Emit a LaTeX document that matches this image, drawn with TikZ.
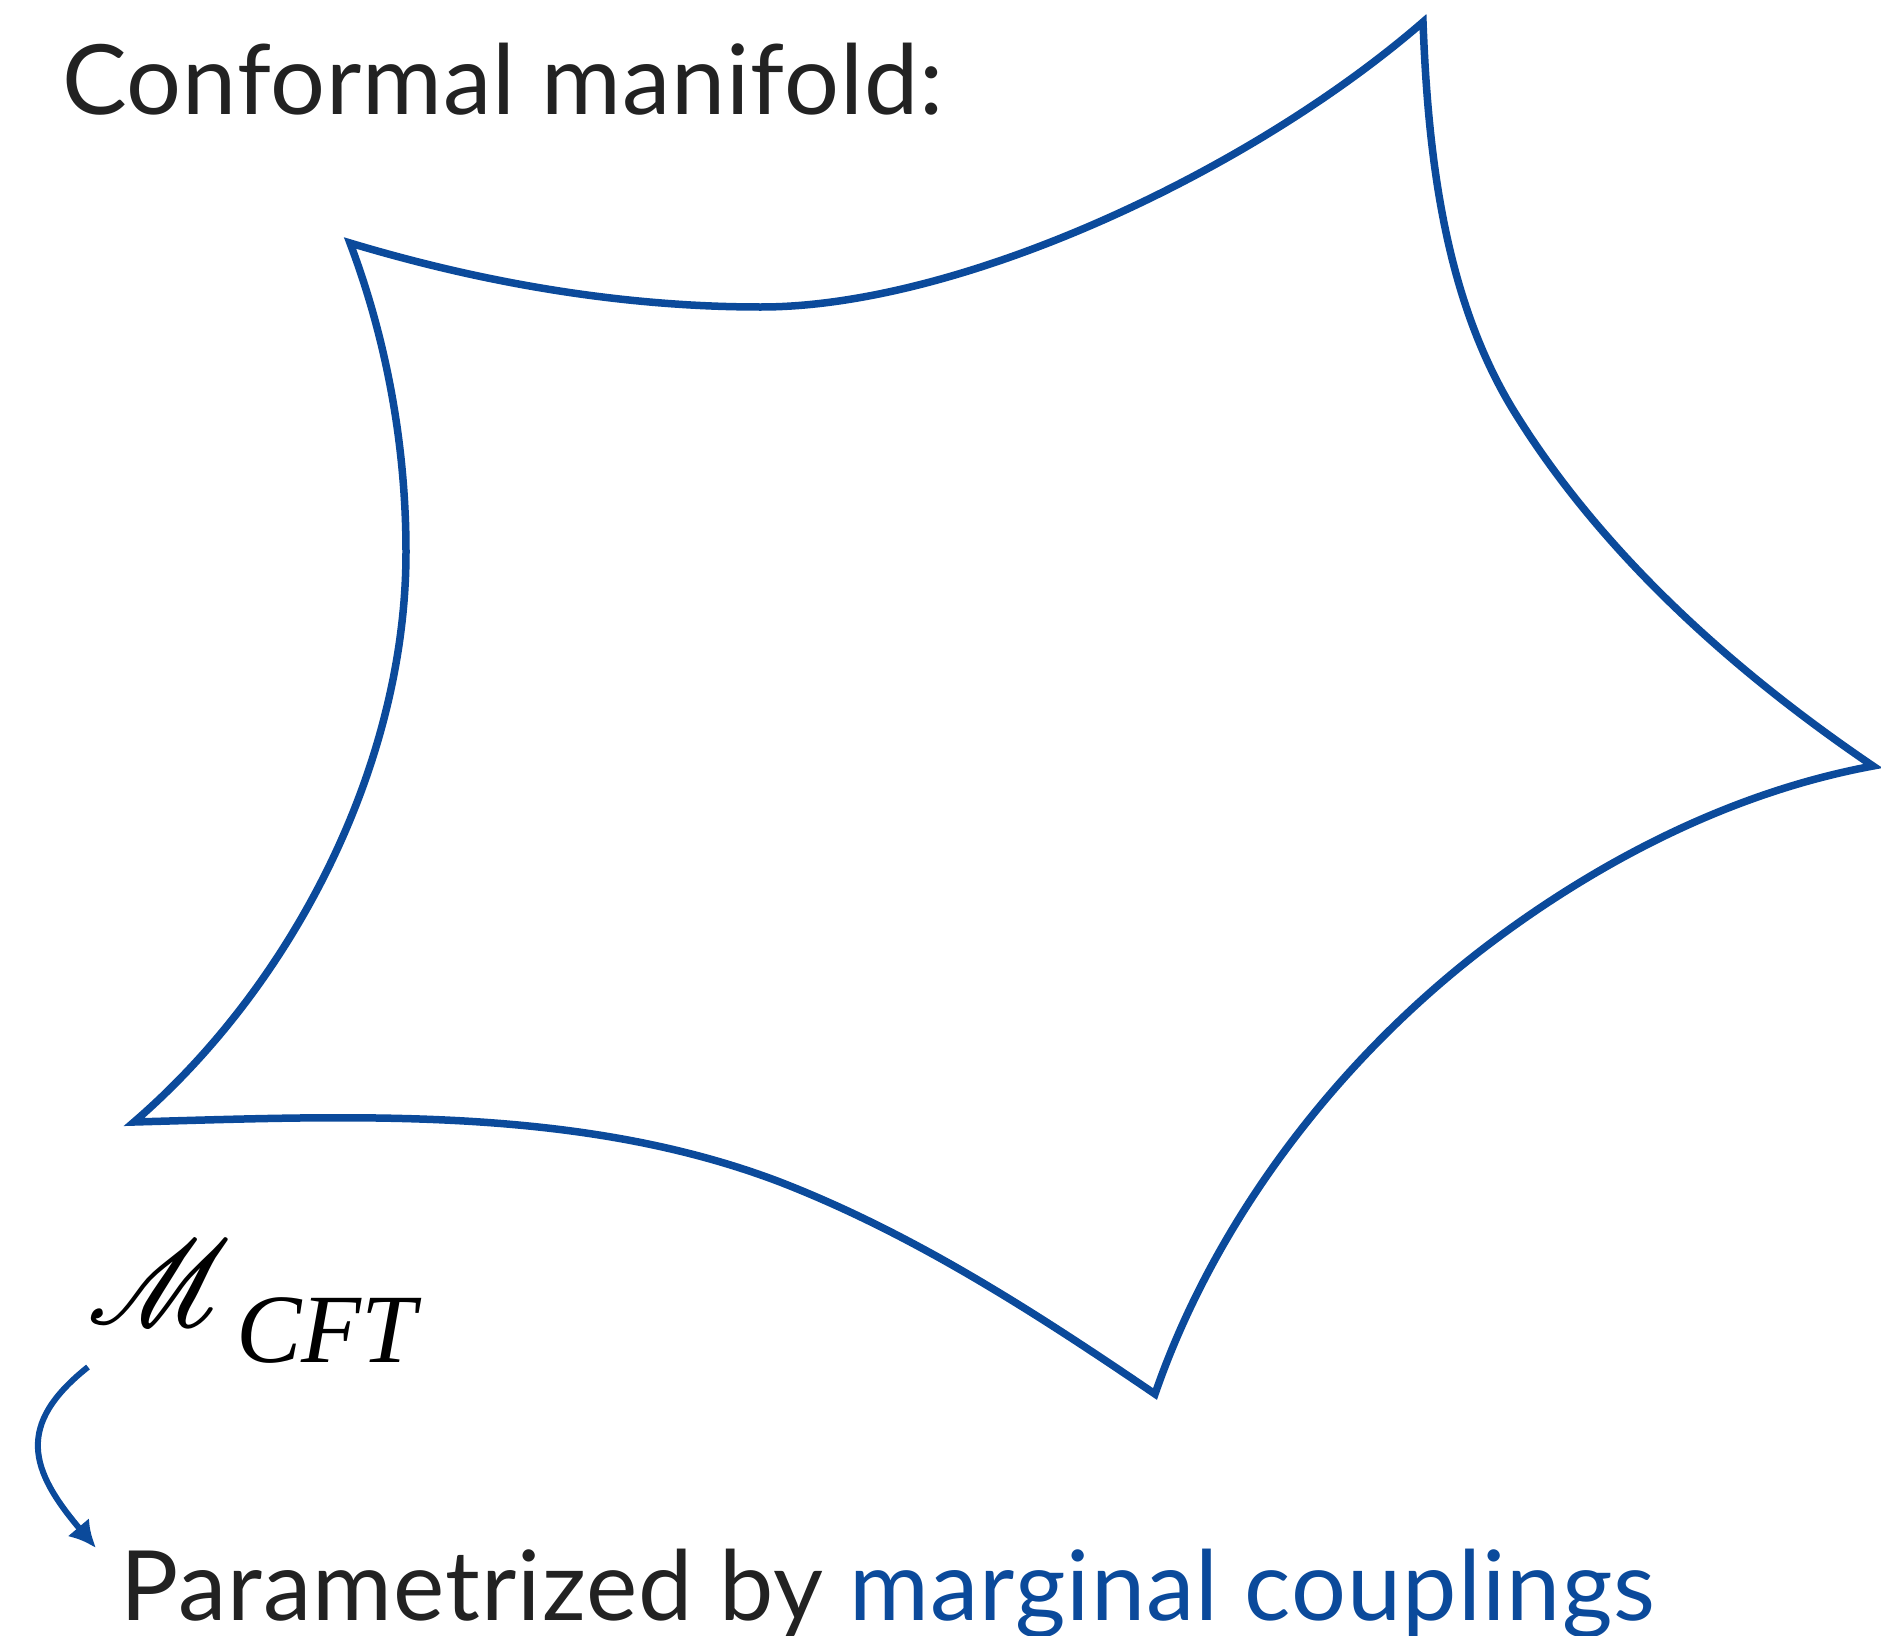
\documentclass[tikz,border=0pt]{standalone}
\usepackage{fontspec}
\usepackage{mathrsfs}
\usepackage{graphicx}
\setmainfont{Lato}[LetterSpace=1]
\newfontfamily\timesit{Liberation Serif}[ItalicFont=* Italic]
\usetikzlibrary{arrows.meta}
\definecolor{cftblue}{RGB}{11,74,155}
\definecolor{txtgray}{RGB}{34,34,34}
\tikzset{
  starline/.style={draw=cftblue, line width=7.5pt, line join=miter, miter limit=20},
  bigtext/.style={anchor=base west, inner sep=0pt, text=txtgray, font=\fontsize{97}{110}\selectfont},
  flowarrow/.style={draw=cftblue, line width=6pt, -{Latex[length=27pt,width=28pt]}}
}
\begin{document}
\begin{tikzpicture}[x=1pt,y=-1pt]
\useasboundingbox (0,0) rectangle (1881,1635);
% star-shaped conformal manifold
\coordinate (A) at (350,243);
\coordinate (B) at (1423,22);
\coordinate (C) at (1873,766);
\coordinate (D) at (1155,1394);
\coordinate (E) at (134,1122);
\path[starline] (A)
  .. controls (483,283) and (622,307) .. (761,307)
  .. controls (960,307) and (1250,172) .. (B)
  .. controls (1428,154) and (1444,295) .. (1512,408)
  .. controls (1600,552) and (1733,671) .. (C)
  .. controls (1738,791) and (1610,855) .. (1500,936)
  .. controls (1346,1049) and (1217,1214) .. (D)
  .. controls (1036,1313) and (914,1234) .. (780,1182)
  .. controls (578,1105) and (350,1116) .. (E)
  .. controls (294,984) and (406,763) .. (406,552)
  .. controls (406,447) and (387,341) .. cycle;
% texts
\node[bigtext] (title) at (62,114) {Conformal manifold:};
\node[anchor=base west, inner sep=0pt] (mscr) at (81,1324) {\fontsize{5}{6}\selectfont\scalebox{20}[24]{$\mathscr{M}$}};
\node[anchor=base west, inner sep=0pt, font=\fontsize{98}{110}\selectfont\timesit\itshape] (cft) at (236,1362) {CFT};
\node[bigtext] (param) at (120,1620) {\addfontfeature{LetterSpace=1.2}Parametrized by \textcolor{cftblue}{marginal couplings}};
% arrow
\coordinate (arrS) at (88,1367);
\coordinate (arrE) at (96,1548);
\path[flowarrow] (arrS) .. controls (15,1425) and (30,1470) .. (arrE);
\end{tikzpicture}
\end{document}
